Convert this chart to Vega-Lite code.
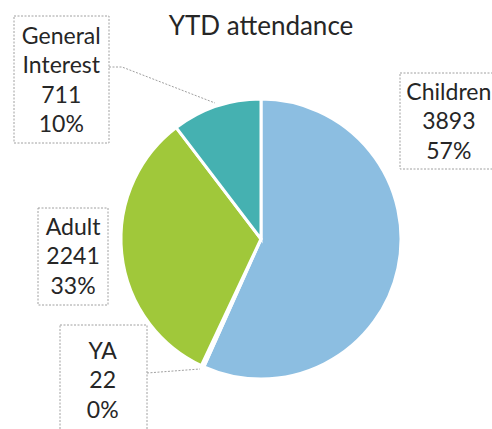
{
  "$schema": "https://vega.github.io/schema/vega-lite/v6.json",
  "width": 462,
  "height": 380,
  "autosize": {"type": "none"},
  "padding": {"left": 30, "top": 49, "right": 0, "bottom": 0},
  "background": "white",
  "title": {"text": "YTD attendance", "font": "Lato", "fontSize": 26, "fontWeight": "normal", "color": "#262626", "anchor": "middle", "baseline": "bottom", "offset": -31, "dy": 21},
  "data": {"values": [
    {"category": "Children", "value": 3893},
    {"category": "YA", "value": 22},
    {"category": "Adult", "value": 2241},
    {"category": "General Interest", "value": 711}
  ]},
  "transform": [
    {"joinaggregate": [{"op": "sum", "field": "value", "as": "total"}]},
    {"stack": "value", "groupby": [], "as": ["v0", "v1"]},
    {"calculate": "(datum.v0 + datum.v1) / 2", "as": "mid"},
    {"calculate": "datum.category + ' ' + datum.value + ' ' + format(datum.value / datum.total, '.0%')", "as": "label"}
  ],
  "layer": [
    {
      "mark": {"type": "arc", "outerRadius": 140, "stroke": "white", "strokeWidth": 3},
      "encoding": {
        "theta": {"field": "v1", "type": "quantitative", "stack": null, "scale": {"zero": true, "nice": false}},
        "theta2": {"field": "v0"},
        "color": {"field": "category", "type": "nominal", "legend": null,
          "scale": {"domain": ["Children", "YA", "Adult", "General Interest"], "range": ["#8cbee1", "#e58a3a", "#a0c83a", "#45b1b1"]}}
      }
    },
    {
      "transform": [{"filter": "datum.category === 'Children'"}],
      "mark": {"type": "text", "radius": 190, "dx": 2, "dy": -186, "lineBreak": " ", "lineHeight": 29.5, "font": "Lato", "fontSize": 23, "fill": "#262626", "align": "center", "baseline": "middle"},
      "encoding": {"theta": {"field": "mid", "type": "quantitative", "stack": null}, "text": {"field": "label"}}
    },
    {
      "transform": [{"filter": "datum.category === 'YA'"}],
      "mark": {"type": "text", "radius": 190, "dx": -79, "dy": -60, "lineBreak": " ", "lineHeight": 29.5, "font": "Lato", "fontSize": 23, "fill": "#262626", "align": "center", "baseline": "middle"},
      "encoding": {"theta": {"field": "mid", "type": "quantitative", "stack": null}, "text": {"field": "label"}}
    },
    {
      "transform": [{"filter": "datum.category === 'Adult'"}],
      "mark": {"type": "text", "radius": 190, "dx": 1, "dy": -31, "lineBreak": " ", "lineHeight": 29.5, "font": "Lato", "fontSize": 23, "fill": "#262626", "align": "center", "baseline": "middle"},
      "encoding": {"theta": {"field": "mid", "type": "quantitative", "stack": null}, "text": {"field": "label"}}
    },
    {
      "transform": [{"filter": "datum.category === 'General Interest'"}],
      "mark": {"type": "text", "radius": 190, "dx": -139, "dy": -22, "lineBreak": " ", "lineHeight": 29.5, "font": "Lato", "fontSize": 23, "fill": "#262626", "align": "center", "baseline": "middle"},
      "encoding": {"theta": {"field": "mid", "type": "quantitative", "stack": null}, "text": {"field": "label"}}
    },
    {
      "mark": {"type": "point", "size": 4, "filled": false, "opacity": 1, "stroke": "#a0a0a0", "strokeWidth": 1, "strokeDash": [2, 1.5]},
      "encoding": {
        "shape": {"field": "category", "type": "nominal", "legend": null,
          "scale": {"domain": ["Children", "YA", "Adult", "General Interest"],
            "range": [
              "M139,-166H237V-70H139Z",
              "M-201,86H-114V198H-201Z M-114,134L-61,130",
              "M-223,-31H-153V66H-223Z",
              "M-247,-223H-152V-96H-247Z M-152,-172L-139,-172L-46,-136"
            ]}}
      }
    }
  ]
}
